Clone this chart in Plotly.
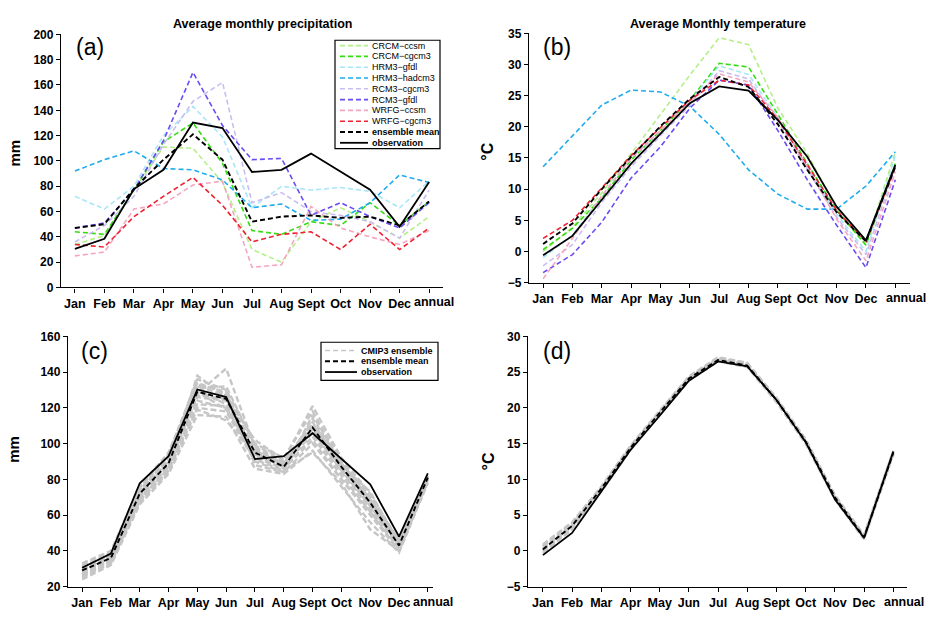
import plotly.graph_objects as go

W, H = 930, 618

# ---------------- data ----------------
months = ["Jan", "Feb", "Mar", "Apr", "May", "Jun", "Jul", "Aug", "Sept", "Oct", "Nov", "Dec", "annual"]

rcm_names = ["CRCM\u2212ccsm", "CRCM\u2212cgcm3", "HRM3\u2212gfdl", "HRM3\u2212hadcm3",
             "RCM3\u2212cgcm3", "RCM3\u2212gfdl", "WRFG\u2212ccsm", "WRFG\u2212cgcm3"]
rcm_colors = ["#b4ef8a", "#33dd11", "#a9e6f7", "#1eabef",
              "#c9bdf3", "#6a4cf2", "#f4a6bf", "#ee2233"]

# monthly precipitation (mm)
crcm_ccsm_p = [34, 41, 77, 111, 110, 83, 30, 20, 52, 63, 52, 39, 56]
crcm_cgcm3_p = [44, 42, 77, 115, 130, 98, 45, 42, 52, 49, 67, 49, 68]
hrm3_gfdl_p = [72, 62, 80, 120, 143, 119, 63, 80, 77, 79, 76, 63, 84]
hrm3_hadcm3_p = [92, 101, 108, 94, 93, 85, 63, 66, 53, 54, 67, 89, 83]
rcm3_cgcm3_p = [36, 49, 72, 113, 147, 162, 67, 75, 60, 57, 52, 39, 77]
rcm3_gfdl_p = [47, 51, 77, 116, 170, 128, 101, 102, 57, 67, 56, 47, 67]
wrfg_ccsm_p = [25, 28, 62, 66, 81, 84, 16, 18, 64, 47, 40, 34, 45]
wrfg_cgcm3_p = [34, 32, 56, 72, 87, 65, 36, 42, 44, 30, 50, 30, 47]
rcm_mean_p = [47, 50, 78, 101, 121, 101, 52, 56, 57, 55, 56, 49, 68]
obs_p = [30.5, 38.5, 77.8, 93, 130.3, 126, 91.3, 93, 105.8, 91.5, 77.2, 48, 83.4]

# monthly temperature (degC)
crcm_ccsm_t = [0.0, 3.9, 9.4, 15.7, 22.0, 28.3, 34.3, 33.2, 23.0, 15.7, 6.8, 1.0, 16.0]
crcm_cgcm3_t = [0.3, 3.7, 8.6, 14.7, 19.4, 24.3, 30.2, 29.6, 22.0, 14.1, 6.6, 1.0, 14.1]
hrm3_gfdl_t = [-1.0, 2.6, 8.9, 15.2, 18.8, 24.1, 29.8, 28.4, 21.5, 13.6, 6.0, 0.0, 15.4]
hrm3_hadcm3_t = [13.6, 18.6, 23.5, 25.9, 25.6, 23.3, 18.8, 13.1, 9.2, 6.8, 6.8, 10.5, 16.0]
rcm3_cgcm3_t = [-2.3, 1.1, 7.9, 13.6, 18.6, 23.5, 29.0, 27.7, 20.9, 13.1, 5.5, -0.5, 13.6]
rcm3_gfdl_t = [-3.4, -0.5, 4.7, 11.8, 16.8, 23.0, 27.5, 26.7, 19.4, 11.5, 4.2, -2.6, 11.5]
wrfg_ccsm_t = [-4.4, 2.1, 8.9, 14.9, 19.4, 24.1, 28.5, 27.2, 21.5, 13.6, 5.2, -1.5, 12.8]
wrfg_cgcm3_t = [2.1, 5.0, 10.2, 15.4, 19.9, 24.3, 27.5, 26.7, 21.2, 13.9, 6.6, 1.6, 13.6]
rcm_mean_t = [1.2, 4.5, 10.0, 15.2, 20.1, 24.5, 28.0, 26.4, 20.4, 13.1, 6.3, 1.6, 13.6]
obs_t = [-0.6, 2.5, 8.3, 14.1, 18.9, 23.8, 26.5, 25.8, 21.1, 15.2, 7.2, 1.8, 13.9]

rcm_p = [crcm_ccsm_p, crcm_cgcm3_p, hrm3_gfdl_p, hrm3_hadcm3_p,
         rcm3_cgcm3_p, rcm3_gfdl_p, wrfg_ccsm_p, wrfg_cgcm3_p]
rcm_t = [crcm_ccsm_t, crcm_cgcm3_t, hrm3_gfdl_t, hrm3_hadcm3_t,
         rcm3_cgcm3_t, rcm3_gfdl_t, wrfg_ccsm_t, wrfg_cgcm3_t]

# CMIP3 members, precipitation (mm)
cmip3_p = [
    [27, 35, 70, 87, 126, 124, 94, 87, 106, 84, 64, 42, 80],
    [30, 37, 74, 91, 132, 127, 97, 89, 112, 88, 68, 44, 81],
    [25, 33, 67, 84, 120, 118, 90, 84, 100, 80, 60, 40, 79],
    [32, 39, 75, 94, 136, 130, 100, 92, 118, 90, 70, 46, 82],
    [28, 36, 72, 88, 128, 142, 98, 90, 110, 87, 67, 43, 80],
    [31, 38, 73, 90, 130, 122, 96, 88, 108, 86, 66, 44, 81],
    [26, 34, 69, 86, 124, 120, 92, 86, 104, 82, 62, 41, 79],
    [29, 36, 71, 89, 138, 126, 102, 91, 121, 92, 72, 45, 81],
    [33, 40, 76, 95, 134, 128, 95, 87, 114, 89, 69, 46, 82],
    [24, 32, 66, 83, 116, 115, 86, 83, 96, 76, 56, 39, 78],
    [28, 35, 70, 87, 127, 125, 94, 88, 107, 85, 65, 43, 80],
    [30, 37, 73, 92, 131, 132, 99, 91, 111, 88, 73, 44, 81],
    [27, 34, 68, 85, 122, 121, 91, 85, 95, 78, 52, 40, 79],
    [29, 37, 72, 90, 129, 119, 96, 89, 109, 86, 66, 43, 80],
    [31, 38, 74, 93, 133, 129, 88, 84, 116, 89, 71, 45, 81],
    [26, 33, 69, 86, 119, 113, 93, 86, 102, 80, 62, 40, 79],
]
cmip3_mean_p = [29, 36, 72, 89, 129, 125, 95, 87, 109, 87, 67, 43, 81]

# CMIP3 members, temperature (degC)
cmip3_t = [
    [0.6, 3.8, 8.9, 14.6, 19.5, 24.3, 27.0, 26.2, 21.3, 15.5, 7.7, 2.1, 13.9],
    [-0.1, 3.2, 8.4, 14.2, 19.1, 23.9, 26.6, 25.8, 20.9, 15.1, 7.3, 1.7, 13.6],
    [0.9, 4.0, 9.0, 14.7, 19.6, 24.4, 27.1, 26.3, 21.4, 15.6, 7.8, 2.2, 14.0],
    [0.2, 3.5, 8.6, 14.4, 19.3, 24.1, 26.8, 26.0, 21.1, 15.3, 7.5, 1.9, 13.8],
    [-0.3, 3.0, 8.3, 14.1, 19.0, 23.8, 26.5, 25.7, 20.8, 15.0, 7.2, 1.6, 13.5],
    [0.4, 3.6, 8.7, 14.5, 19.4, 24.2, 26.9, 26.1, 21.2, 15.4, 7.6, 2.0, 13.8],
    [0.0, 3.3, 8.5, 14.3, 19.2, 24.0, 26.7, 25.9, 21.0, 15.2, 7.4, 1.8, 13.7],
    [0.7, 3.9, 8.8, 14.6, 19.4, 24.2, 26.9, 26.1, 21.2, 15.4, 7.6, 2.0, 13.9],
]
cmip3_mean_t = [0.2, 3.5, 8.7, 14.4, 19.3, 24.1, 26.7, 25.9, 21.1, 15.3, 7.5, 1.9, 13.7]

# ---------------- helpers ----------------
FONT = "Arial, Liberation Sans, sans-serif"
TICK_SIZE = 12.5
xs = list(range(len(months)))
DASH = "5px,3px"


def px(x):
    return x / W


def py(y):
    return 1 - y / H


fig = go.Figure()


def add_line(ax, y, color, width, dash=None):
    fig.add_trace(go.Scatter(
        x=xs, y=y, mode="lines", xaxis="x" + ax, yaxis="y" + ax,
        line=dict(color=color, width=width, dash=dash),
        showlegend=False, hoverinfo="skip"))


# (a) precipitation, regional models
for vals, col in zip(rcm_p, rcm_colors):
    add_line("", vals, col, 1.6, DASH)
add_line("", rcm_mean_p, "black", 1.9, DASH)
add_line("", obs_p, "black", 1.8)

# (b) temperature, regional models
for vals, col in zip(rcm_t, rcm_colors):
    add_line("2", vals, col, 1.6, DASH)
add_line("2", rcm_mean_t, "black", 1.9, DASH)
add_line("2", obs_t, "black", 1.8)

# (c) precipitation, CMIP3
for vals in cmip3_p:
    add_line("3", vals, "#c6c6c6", 2.4, "6px,3px")
add_line("3", cmip3_mean_p, "black", 1.9, DASH)
add_line("3", obs_p, "black", 1.8)

# (d) temperature, CMIP3
for vals in cmip3_t:
    add_line("4", vals, "#c6c6c6", 2.4, "6px,3px")
add_line("4", cmip3_mean_t, "black", 1.9, DASH)
add_line("4", obs_t, "black", 1.8)

# ---------------- axes ----------------
# the last category label is written separately (nudged right of its tick)
tick_text = months[:-1] + [""]


def xaxis(x0, x1, rng, anchor):
    return dict(domain=[px(x0), px(x1)], range=rng, anchor=anchor,
                tickmode="array", tickvals=xs, ticktext=tick_text, tickangle=0,
                showline=True, linecolor="black", linewidth=1.3,
                ticks="outside", ticklen=4, tickwidth=1.2, tickcolor="black",
                showgrid=False, zeroline=False,
                tickfont=dict(family=FONT, size=TICK_SIZE, color="black", weight="bold"))


def yaxis(y0, y1, rng, dtick, anchor):
    return dict(domain=[py(y1), py(y0)], range=rng, anchor=anchor, dtick=dtick,
                showline=True, linecolor="black", linewidth=1.3,
                ticks="outside", ticklen=4, tickwidth=1.2, tickcolor="black",
                showgrid=False, zeroline=False,
                tickfont=dict(family=FONT, size=12, color="black", weight="bold"))


layout = dict(
    width=W, height=H, autosize=False,
    margin=dict(l=0, r=0, t=0, b=0),
    paper_bgcolor="white", plot_bgcolor="white",
    xaxis=xaxis(61, 443, [-0.47, 12.47], "y"),
    yaxis=yaxis(28, 287, [0, 200], 20, "x"),
    xaxis2=xaxis(529, 910, [-0.48, 12.5], "y2"),
    yaxis2=yaxis(27, 282, [-5, 35], 5, "x2"),
    xaxis3=xaxis(68, 433, [-0.49, 12.18], "y3"),
    yaxis3=yaxis(337, 593, [20, 160], 20, "x3"),
    xaxis4=xaxis(528, 907, [-0.51, 12.47], "y4"),
    yaxis4=yaxis(337, 593, [-5, 30], 5, "x4"),
)
fig.update_layout(**layout)

# ---------------- text ----------------
ann = []


def text(x, y, s, size, bold=False, xanchor="center", angle=0):
    ann.append(dict(x=px(x), y=py(y), xref="paper", yref="paper", text=s,
                    showarrow=False, xanchor=xanchor, yanchor="middle", textangle=angle,
                    font=dict(family=FONT, size=size, color="black",
                              weight="bold" if bold else "normal")))


text(262, 17, "Average monthly precipitation", 12.5, True)
text(718, 17, "Average Monthly temperature", 12.5, True)
text(90, 41, "(a)", 23)
text(557, 41, "(b)", 23)
text(94, 352, "(c)", 23)
text(557, 352, "(d)", 23)
text(15, 150, "mm", 15, True, angle=-90)
text(14, 453, "mm", 15, True, angle=-90)
text(488, 148, "\u00b0C", 16, True, angle=-90)
text(488, 465, "\u00b0C", 16, True, angle=-90)

# last category label, placed on the axis scale with a small offset
for ax, shift in [("", 5), ("2", 11), ("3", 5), ("4", 11)]:
    ann.append(dict(x=xs[-1], xref="x" + ax, y=0, yref="y" + ax + " domain",
                    text=months[-1], showarrow=False, xanchor="center", yanchor="top",
                    xshift=shift, yshift=-7, borderpad=0,
                    font=dict(family=FONT, size=TICK_SIZE, color="black", weight="bold")))

# ---------------- legend boxes ----------------
shapes = []


def legend_box(x0, y0, x1, y1, entries, row0, step, lx0, lx1, tx, size):
    shapes.append(dict(type="rect", xref="paper", yref="paper",
                       x0=px(x0), x1=px(x1), y0=py(y1), y1=py(y0),
                       line=dict(color="black", width=1.2), fillcolor="white", layer="above"))
    for i, (label, color, width, dash, bold) in enumerate(entries):
        yy = row0 + i * step
        shapes.append(dict(type="line", xref="paper", yref="paper",
                           x0=px(lx0), x1=px(lx1), y0=py(yy), y1=py(yy),
                           line=dict(color=color, width=width, dash=dash), layer="above"))
        text(tx, yy, label, size, bold, xanchor="left")


entries_a = [(n, c, 1.6, DASH, False) for n, c in zip(rcm_names, rcm_colors)]
entries_a += [("ensemble mean", "black", 1.9, DASH, True),
              ("observation", "black", 1.8, "solid", True)]
legend_box(335, 34, 440, 145, entries_a, 39.5, 11.05, 340, 368, 370, 9)

entries_c = [("CMIP3 ensemble", "#c6c6c6", 1.6, DASH, True),
             ("ensemble mean", "black", 1.9, DASH, True),
             ("observation", "black", 1.8, "solid", True)]
legend_box(321, 343, 438, 382, entries_c, 351.5, 11, 325, 357, 359, 9)

fig.update_layout(annotations=ann, shapes=shapes)

fig.write_html("out.html")
